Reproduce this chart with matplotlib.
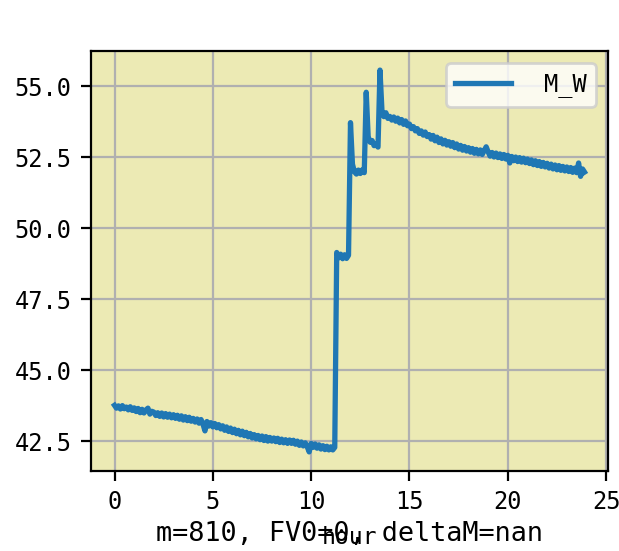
import numpy as np
import matplotlib
matplotlib.use("Agg")
import matplotlib.pyplot as plt

plt.rcParams['font.family'] = ['DejaVu Sans Mono', 'DejaVu Sans']

series_label = "M_W"
x_label = "hour"
footer_text = "m=810, FV0=0, deltaM=nan"

mw = [
    # 0.0 - 11.2
    43.76, 43.66, 43.74, 43.63, 43.75, 43.64, 43.70, 43.60, 43.71, 43.58,
    43.67, 43.54, 43.65, 43.50, 43.62, 43.49, 43.60, 43.66, 43.45, 43.55,
    43.52, 43.40, 43.50, 43.37, 43.49, 43.35, 43.47, 43.34, 43.45, 43.32,
    43.43, 43.30, 43.41, 43.27, 43.39, 43.24, 43.36, 43.22, 43.34, 43.20,
    43.30, 43.17, 43.28, 43.13, 43.26, 43.10, 42.86, 43.19, 43.03, 43.15,
    43.00, 43.12, 42.97, 43.08, 42.93, 43.04, 42.88, 43.00, 42.84, 42.96,
    42.80, 42.92, 42.76, 42.88, 42.72, 42.85, 42.69, 42.81, 42.65, 42.77,
    42.61, 42.73, 42.58, 42.70, 42.55, 42.68, 42.52, 42.66, 42.50, 42.63,
    42.50, 42.61, 42.48, 42.60, 42.45, 42.57, 42.44, 42.55, 42.42, 42.54,
    42.42, 42.53, 42.39, 42.50, 42.35, 42.47, 42.33, 42.44, 42.30, 42.12,
    42.42, 42.28, 42.40, 42.25, 42.37, 42.22, 42.34, 42.20, 42.32, 42.19,
    42.30, 42.19, 42.28,
    # 11.3 - 13.9
    49.14, 48.95, 49.08, 48.92, 49.06, 48.93, 49.04,
    53.71,
    52.25, 51.98, 51.90, 52.04, 51.92, 52.05, 51.95,
    54.78,
    53.22, 53.02, 53.08, 52.90, 52.95, 52.85,
    55.56,
    54.14, 53.92, 54.06, 53.86,
    # 14.0 - 23.9
    53.93, 53.80, 53.91, 53.76, 53.87, 53.70, 53.82, 53.65, 53.77, 53.60,
    53.66, 53.50, 53.57, 53.42, 53.50, 53.33, 53.42, 53.27, 53.38, 53.22,
    53.29, 53.13, 53.26, 53.07, 53.20, 53.01, 53.14, 52.96, 53.09, 52.92,
    53.04, 52.88, 53.01, 52.83, 52.96, 52.78, 52.91, 52.74, 52.87, 52.71,
    52.83, 52.67, 52.80, 52.63, 52.77, 52.61, 52.75, 52.59, 52.73, 52.86,
    52.68, 52.53, 52.66, 52.50, 52.64, 52.48, 52.61, 52.45, 52.59, 52.43,
    52.56, 52.29, 52.52, 52.37, 52.50, 52.34, 52.48, 52.32, 52.46, 52.30,
    52.43, 52.27, 52.40, 52.23, 52.37, 52.20, 52.34, 52.17, 52.31, 52.15,
    52.28, 52.11, 52.25, 52.08, 52.22, 52.05, 52.20, 52.03, 52.17, 52.01,
    52.15, 51.99, 52.13, 51.96, 52.11, 51.95, 52.29, 51.82, 52.08, 51.97,
]
hours = np.round(np.arange(len(mw)) * 0.1, 1)

DPI = 200
fig = plt.figure(figsize=(619 / DPI, 551 / DPI), dpi=DPI)
ax = fig.add_axes([91 / 619, 80 / 551, (608 - 91) / 619, (471 - 51) / 551])
ax.set_facecolor('#ECEAB4')

ax.plot(hours, mw, color='#1f77b4', linewidth=1.9, label=series_label)
ax.grid(True, color='#b0b0b0', linewidth=0.8)
ax.set_axisbelow(True)
ax.tick_params(labelsize=8.5)
ax.set_xticks([0, 5, 10, 15, 20, 25])
ax.set_yticks([42.5, 45.0, 47.5, 50.0, 52.5, 55.0])
ax.set_xlabel(x_label, fontsize=8.3)
ax.legend(loc='upper right', fontsize=8.5, handlelength=2.35, handletextpad=1.4)

fig.text(349.5 / 619, 10.3 / 551, footer_text, ha='center', va='baseline', fontsize=9.7)

fig.savefig('out.png', dpi=DPI)
